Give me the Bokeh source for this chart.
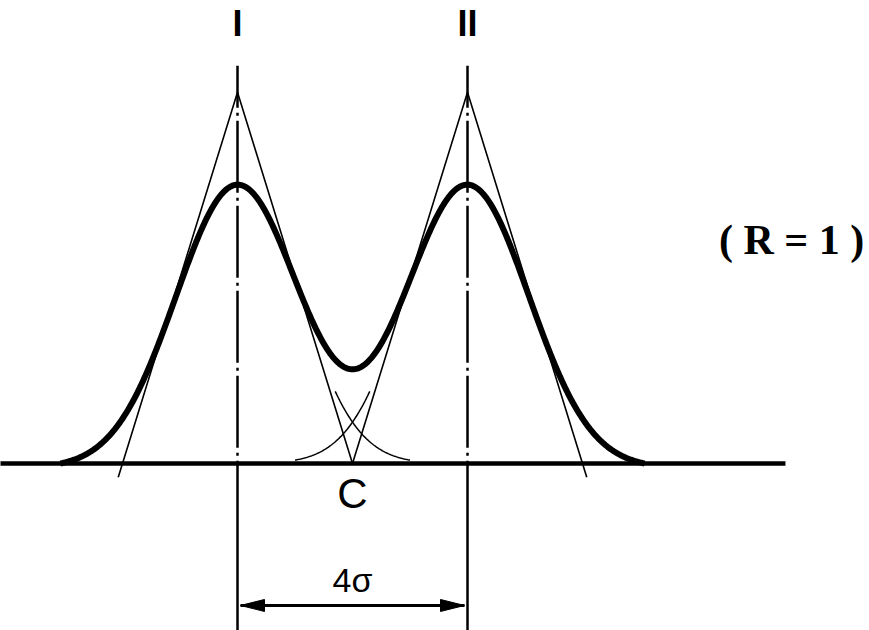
import numpy as np
from bokeh.plotting import figure
from bokeh.models import Range1d, Label
from bokeh.embed import file_html
from bokeh.resources import INLINE

# ---------------- data (x in units of sigma, y in units of single-peak height) -------------
peak_labels = ["I", "II"]
peak_centers = [0.0, 4.0]
sigma = 1.0
single_height = 1.0          # height of each individual peak (tangent construction)
sum_height = 0.925           # amplitude used for the drawn (summed) envelope
sum_sigma = 1.07             # width used for the drawn envelope
curve_extent = 3.08          # envelope drawn to +/- this many sigma beyond the peaks
tail_from, tail_to = 1.7, 3.0  # visible part of the individual peak tails (sigma from centre)
tangent_below = 0.045        # outer tangents run this far below the baseline
baseline_from, baseline_to = -4.2, 9.53
guide_top = 1.30
sep_label = "4σ"
cross_label = "C"
res_label = "( R = 1 )"
res_label_pos = (9.635, 0.68)

# ---------------- layout ----------------
W, H = 869, 630
px_x, px_y = 57.5, 306.0
x0_px, y0_px = 237.0, 463.0

p = figure(width=W, height=H,
           x_range=Range1d(-x0_px / px_x, (W - x0_px) / px_x),
           y_range=Range1d(-(H - y0_px) / px_y, y0_px / px_y),
           output_backend="svg", toolbar_location=None,
           x_axis_type=None, y_axis_type=None, min_border=0,
           outline_line_color=None, background_fill_color="white",
           border_fill_color="white")
p.grid.visible = False

c1, c2 = peak_centers


def lab_y(y, size_px):
    # Label's alphabetic baseline is drawn lower than requested; compensate
    return y + 0.36 * size_px / px_y


# baseline
p.segment(x0=[baseline_from], y0=[0], x1=[baseline_to], y1=[0],
          line_color="black", line_width=4.5)

# vertical guide lines: dash-dot above the baseline, solid below
ybot = -(H - y0_px) / px_y - 0.05
p.segment(x0=peak_centers, y0=[guide_top] * 2, x1=peak_centers, y1=[0, 0],
          line_color="black", line_width=2.5, line_dash="72 5 3 5",
          line_dash_offset=30)
p.segment(x0=peak_centers, y0=[0, 0], x1=peak_centers, y1=[ybot] * 2,
          line_color="black", line_width=2.5)

# tangent (triangle) construction for each individual peak
apex = 2 * single_height * np.exp(-0.5)
for c, other in zip(peak_centers, peak_centers[::-1]):
    outer_dir = -1 if other > c else 1
    ext = tangent_below * (2 * sigma) / apex
    x_outer = c + outer_dir * (2 * sigma + ext)
    x_inner = c - outer_dir * 2 * sigma
    p.line([x_outer, c, x_inner], [-tangent_below, apex, 0],
           line_color="black", line_width=1.6)

# individual peak tails in the middle region
for c, other in zip(peak_centers, peak_centers[::-1]):
    d = 1 if other > c else -1
    t = np.linspace(tail_from, tail_to, 80)
    xs = c + d * t
    ys = single_height * np.exp(-(t ** 2) / (2 * sigma ** 2))
    p.line(xs, ys, line_color="black", line_width=1.5)

# summed envelope (thick)
xs = np.linspace(c1 - curve_extent, c2 + curve_extent, 900)
ys = sum(sum_height * np.exp(-(xs - c) ** 2 / (2 * sum_sigma ** 2)) for c in peak_centers)
ys = ys - ys[0]
p.line(xs, ys, line_color="black", line_width=6, line_join="round")

# peak labels
for c, lab in zip(peak_centers, peak_labels):
    p.add_layout(Label(x=c, y=lab_y(1.395, 36), text=lab, text_align="center",
                       text_baseline="alphabetic", text_font="Liberation Sans",
                       text_font_style="bold", text_font_size="36px", text_color="black"))

# crossing point label
p.add_layout(Label(x=(c1 + c2) / 2, y=lab_y(-0.147, 42), text=cross_label, text_align="center",
                   text_baseline="alphabetic", text_font="Liberation Sans",
                   text_font_size="42px", text_color="black"))

# separation dimension
arrow_y = -0.464
gap = 3 / px_x
head_len, head_half = 24 / px_x, 6 / px_y
xa, xb = c1 + gap, c2 - gap
p.segment(x0=[xa], y0=[arrow_y], x1=[xb], y1=[arrow_y], line_color="black", line_width=3)
p.patches(xs=[[xa, xa + head_len, xa + head_len], [xb, xb - head_len, xb - head_len]],
          ys=[[arrow_y, arrow_y + head_half, arrow_y - head_half],
              [arrow_y, arrow_y + head_half, arrow_y - head_half]],
          fill_color="black", line_color="black", line_width=1)
p.add_layout(Label(x=(c1 + c2) / 2, y=lab_y(-0.4216, 34), text=sep_label, text_align="center",
                   text_baseline="alphabetic", text_font="Liberation Sans",
                   text_font_size="34px", text_color="black"))

# resolution label
p.add_layout(Label(x=res_label_pos[0], y=lab_y(res_label_pos[1], 42), text=res_label,
                   text_align="center", text_baseline="alphabetic",
                   text_font="Liberation Serif", text_font_style="bold",
                   text_font_size="42px", text_color="black"))

open("out.html", "w").write(file_html(p, INLINE))
